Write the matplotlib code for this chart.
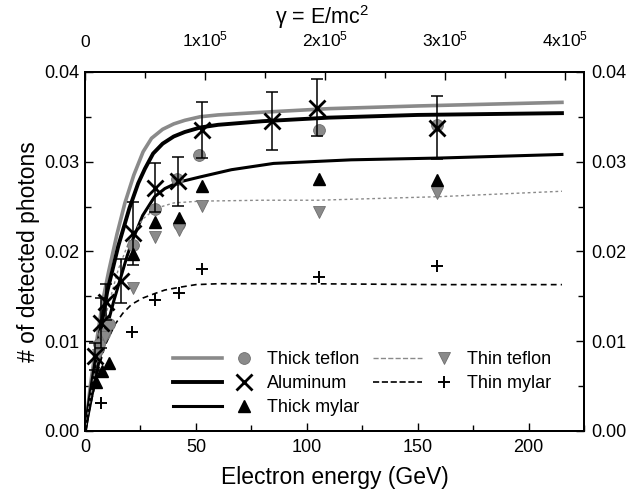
import matplotlib
matplotlib.use("Agg")
import matplotlib.pyplot as plt
from matplotlib.lines import Line2D
from matplotlib.legend_handler import HandlerBase
from matplotlib.ticker import MultipleLocator, FixedLocator, FormatStrFormatter

plt.rcParams['font.family'] = ['Liberation Sans', 'DejaVu Sans']
plt.rcParams['mathtext.fontset'] = 'custom'
plt.rcParams['mathtext.rm'] = 'Liberation Sans'
plt.rcParams['mathtext.it'] = 'Liberation Sans:italic'

# ---- measured points (electron energy in GeV, detected photons per electron) ----
thick_teflon_x = [6.2, 8.4, 10.7, 21.5, 31.4, 41.5, 42.5, 51.4, 105.6, 158.5]
thick_teflon_y = [0.0097, 0.0108, 0.0119, 0.0207, 0.0247, 0.0281, 0.0231, 0.0307, 0.0335, 0.0341]

aluminum_x = [4.5, 7.3, 9.5, 16.3, 21.5, 31.4, 41.8, 52.6, 84.4, 104.6, 158.5]
aluminum_y = [0.0083, 0.0120, 0.0144, 0.0167, 0.0220, 0.0271, 0.0278, 0.0335, 0.0345, 0.0360, 0.0338]
aluminum_err = [0.0015, 0.0028, 0.0020, 0.0025, 0.0035, 0.0027, 0.0027, 0.0031, 0.0032, 0.0032, 0.0035]

thick_mylar_x = [5.0, 7.7, 10.7, 21.5, 31.4, 42.3, 52.6, 105.6, 158.5]
thick_mylar_y = [0.0055, 0.0067, 0.0076, 0.0197, 0.0233, 0.0237, 0.0273, 0.0281, 0.0280]

thin_teflon_x = [6.0, 9.0, 21.8, 31.4, 42.3, 52.6, 105.6, 158.5]
thin_teflon_y = [0.0085, 0.0105, 0.0159, 0.0216, 0.0224, 0.0251, 0.0244, 0.0265]

thin_mylar_x = [7.3, 21.0, 31.7, 42.2, 52.6, 105.6, 158.5]
thin_mylar_y = [0.0031, 0.0110, 0.0146, 0.0154, 0.0180, 0.0172, 0.0184]

# ---- model curves ----
thick_teflon_fit_x = [0, 2.5, 5.5, 8, 10.7, 14.4, 18, 22, 26.2, 30, 35, 40, 45, 52, 60, 80, 110, 150, 215]
thick_teflon_fit_y = [0, 0.0052, 0.0104, 0.0145, 0.0178, 0.0219, 0.0254, 0.0285, 0.0311, 0.0326, 0.0336, 0.0342, 0.0346, 0.0350, 0.0352, 0.0355, 0.0359, 0.0362, 0.0366]

aluminum_fit_x = [0, 3, 6, 10, 15, 20, 24, 27, 30.7, 35, 40, 45, 52, 60, 80, 110, 150, 215]
aluminum_fit_y = [0, 0.0050, 0.0098, 0.0155, 0.0206, 0.0248, 0.0276, 0.0292, 0.0309, 0.0320, 0.0328, 0.0333, 0.0338, 0.0341, 0.0345, 0.0349, 0.0352, 0.0354]

thick_mylar_fit_x = [0, 3, 6, 10, 13, 16, 19, 21.5, 26, 31.4, 36, 42, 52, 66, 85, 120, 160, 215]
thick_mylar_fit_y = [0, 0.0038, 0.0074, 0.0117, 0.0145, 0.0170, 0.0195, 0.0213, 0.0240, 0.0261, 0.0270, 0.0277, 0.0283, 0.0291, 0.0298, 0.0302, 0.0304, 0.0308]

thin_teflon_fit_x = [0, 3, 6, 10, 15, 20, 26, 32, 40, 52, 80, 105, 160, 215]
thin_teflon_fit_y = [0, 0.0045, 0.0088, 0.0135, 0.0180, 0.0212, 0.0236, 0.0248, 0.0254, 0.0256, 0.0257, 0.0257, 0.0261, 0.0267]

thin_mylar_fit_x = [0, 3, 6, 9, 13.6, 17, 21, 26, 31.4, 36, 42.5, 50, 60, 70, 100, 160, 215]
thin_mylar_fit_y = [0, 0.0035, 0.0068, 0.0095, 0.0119, 0.0131, 0.0141, 0.0148, 0.0153, 0.0157, 0.0160, 0.0163, 0.0164, 0.0164, 0.0164, 0.0163, 0.0163]

series_labels = ["Thick teflon", "Aluminum", "Thick mylar", "Thin teflon", "Thin mylar"]
gamma_ticks = [0, 1e5, 2e5, 3e5, 4e5]
gamma_ticklabels = ["0", r"1x10$^{5}$", r"2x10$^{5}$", r"3x10$^{5}$", r"4x10$^{5}$"]
GEV_PER_GAMMA = 5.41e-4
E_MAX = 225

GREY = "#8a8a8a"

fig = plt.figure(figsize=(6.31, 4.92), dpi=100)
ax = fig.add_axes([0.1347, 0.124, 0.791, 0.730])

# curves
l_tt, = ax.plot(thick_teflon_fit_x, thick_teflon_fit_y, color=GREY, lw=2.6, zorder=2)
l_al, = ax.plot(aluminum_fit_x, aluminum_fit_y, color="black", lw=2.8, zorder=2)
l_tm, = ax.plot(thick_mylar_fit_x, thick_mylar_fit_y, color="black", lw=2.2, zorder=2)
l_nt, = ax.plot(thin_teflon_fit_x, thin_teflon_fit_y, color=GREY, lw=1.0, ls=(0, (2, 2)), zorder=2)
l_nm, = ax.plot(thin_mylar_fit_x, thin_mylar_fit_y, color="black", lw=1.2, ls=(0, (3.5, 2.5)), zorder=2)

# points
m_tt, = ax.plot(thick_teflon_x, thick_teflon_y, ls="none", marker="o", ms=8.5,
                mfc=GREY, mec="#6e6e6e", mew=0.6, zorder=3)
ax.errorbar(aluminum_x, aluminum_y, yerr=aluminum_err, fmt="none", ecolor="black",
            elinewidth=1.1, capsize=4.5, capthick=1.1, zorder=4)
m_al, = ax.plot(aluminum_x, aluminum_y, ls="none", marker="x", ms=11, mew=2.0,
                color="black", zorder=5)
m_tm, = ax.plot(thick_mylar_x, thick_mylar_y, ls="none", marker="^", ms=9,
                color="black", zorder=3)
m_nt, = ax.plot(thin_teflon_x, thin_teflon_y, ls="none", marker="v", ms=9,
                mfc=GREY, mec="#6e6e6e", mew=0.6, zorder=3)
m_nm, = ax.plot(thin_mylar_x, thin_mylar_y, ls="none", marker="+", ms=9, mew=1.4,
                color="black", zorder=3)

ax.set_xlim(0, E_MAX)
ax.set_ylim(0, 0.04)
ax.xaxis.set_major_locator(MultipleLocator(50))
ax.xaxis.set_minor_locator(MultipleLocator(25))
ax.yaxis.set_major_locator(MultipleLocator(0.01))
ax.yaxis.set_minor_locator(MultipleLocator(0.005))
ax.yaxis.set_major_formatter(FormatStrFormatter("%.2f"))
ax.tick_params(which="both", direction="in", labelsize=13, width=1.0)
ax.tick_params(which="major", length=6)
ax.tick_params(which="minor", length=4)
ax.tick_params(axis="x", which="major", pad=6)
ax.tick_params(axis="y", which="major", pad=4)
for s in ax.spines.values():
    s.set_linewidth(1.3)

ax.set_xlabel("Electron energy (GeV)", fontsize=16.5, labelpad=7)
ax.set_ylabel("# of detected photons", fontsize=16.5, labelpad=3)

# right axis mirrors the photon scale
axr = ax.twinx()
axr.set_ylim(ax.get_ylim())
axr.yaxis.set_major_locator(MultipleLocator(0.01))
axr.yaxis.set_minor_locator(MultipleLocator(0.005))
axr.yaxis.set_major_formatter(FormatStrFormatter("%.2f"))
axr.tick_params(which="both", direction="in", labelsize=13, width=1.0)
axr.tick_params(which="major", length=6, pad=5)
axr.tick_params(which="minor", length=4)

# top axis: Lorentz factor
axt = ax.twiny()
axt.set_xlim(0, E_MAX / GEV_PER_GAMMA)
axt.xaxis.set_major_locator(FixedLocator(gamma_ticks))
axt.xaxis.set_minor_locator(MultipleLocator(0.5e5))
axt.set_xticklabels(gamma_ticklabels)
axt.tick_params(which="both", direction="in", labelsize=12.5, width=1.0)
axt.tick_params(which="major", length=6, pad=16)
axt.tick_params(which="minor", length=4)
axt.set_xlabel(r"$\mathrm{\gamma}$ = E/mc$^{2}$", fontsize=15.5, labelpad=4)
axt.xaxis.label.set_x(0.474)
for a in (axr, axt):
    for s in a.spines.values():
        s.set_linewidth(1.3)


class LineThenMarker(HandlerBase):
    """Draws the curve segment first and the point symbol to its right."""
    def create_artists(self, legend, orig_handle, xdescent, ydescent,
                       width, height, fontsize, trans):
        line, mark = orig_handle
        y = height / 2 - ydescent
        x0 = -xdescent
        seg = Line2D([x0, x0 + 0.60 * width], [y, y], color=line.get_color(),
                     lw=line.get_linewidth(), ls=line.get_linestyle())
        pt = Line2D([x0 + 0.87 * width], [y], ls="none", marker=mark.get_marker(),
                    ms=mark.get_markersize(), mew=mark.get_markeredgewidth(),
                    mfc=mark.get_markerfacecolor(), mec=mark.get_markeredgecolor())
        seg.set_transform(trans)
        pt.set_transform(trans)
        return [seg, pt]


handles = [(l_tt, m_tt), (l_al, m_al), (l_tm, m_tm), (l_nt, m_nt), (l_nm, m_nm)]
ax.legend(handles, series_labels, handler_map={tuple: LineThenMarker()},
          ncol=2, frameon=False, fontsize=13, loc="upper left",
          bbox_to_anchor=(0.176, 0.222), borderpad=0, borderaxespad=0,
          handlelength=4.5, handletextpad=0.7, labelspacing=0.38, columnspacing=0.8)

fig.savefig("out.png", dpi=100)
